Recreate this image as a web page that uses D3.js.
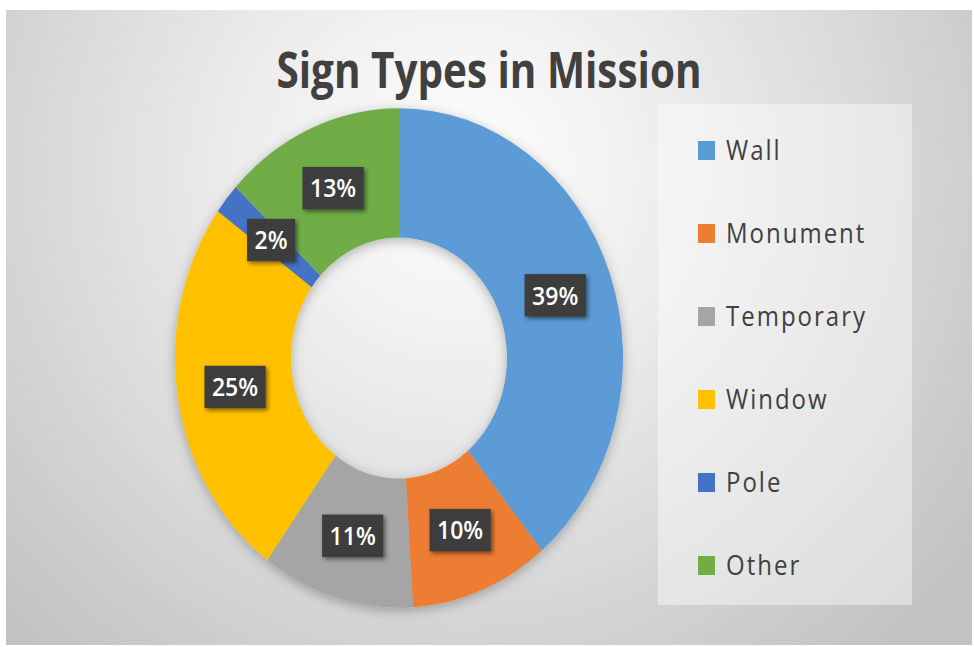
<!DOCTYPE html>
<html>
<head>
<meta charset="utf-8">
<script src="https://cdn.jsdelivr.net/npm/d3@7"></script>
<style>
  body { margin: 0; background: #fff; }
  text { font-family: "Open Sans", sans-serif; }
</style>
</head>
<body>
<div id="container"></div>
<script>
/* DATA */
const categories = ["Wall", "Monument", "Temporary", "Window", "Pole", "Other"]
const values = [39, 10, 11, 25, 2, 13]
const colors = ["#5B9BD5", "#ED7D31", "#A5A5A5", "#FFC000", "#4472C4", "#70AD47"]
const chartTitle = "Sign Types in Mission"

/* CONSTANTS */
const width = 974, height = 647
const cx = 399, cy = 358
const outerR = 224, innerR = 108
const sy = 1.115 // the picture is a bit stretched vertically

const data = categories.map((c, i) => ({ name: c, value: values[i], color: colors[i] }))

const svg = d3.select("#container")
  .append("svg")
  .attr("width", width)
  .attr("height", height)

const defs = svg.append("defs")

const bg = defs.append("radialGradient")
  .attr("id", "bg")
  .attr("gradientUnits", "userSpaceOnUse")
  .attr("cx", 460).attr("cy", 170).attr("r", 640)
bg.append("stop").attr("offset", 0).attr("stop-color", "#ffffff")
bg.append("stop").attr("offset", 0.35).attr("stop-color", "#ececec")
bg.append("stop").attr("offset", 1).attr("stop-color", "#c2c2c2")

const shadow = defs.append("filter").attr("id", "shadow")
  .attr("x", "-20%").attr("y", "-20%").attr("width", "140%").attr("height", "140%")
shadow.append("feDropShadow")
  .attr("dx", 0).attr("dy", 3).attr("stdDeviation", 6)
  .attr("flood-color", "#000").attr("flood-opacity", 0.28)

const lblShadow = defs.append("filter").attr("id", "lblShadow")
  .attr("x", "-30%").attr("y", "-30%").attr("width", "160%").attr("height", "160%")
lblShadow.append("feDropShadow")
  .attr("dx", 2).attr("dy", 2).attr("stdDeviation", 2)
  .attr("flood-color", "#000").attr("flood-opacity", 0.5)

// BACKGROUND FRAME
svg.append("rect")
  .attr("x", 6).attr("y", 10)
  .attr("width", 966).attr("height", 635)
  .attr("fill", "url(#bg)")

// TITLE
svg.append("text")
  .attr("transform", `translate(489, 88) scale(1, ${sy})`)
  .attr("text-anchor", "middle")
  .attr("font-size", 45)
  .attr("font-weight", 700)
  .attr("fill", "#404040")
  .attr("textLength", 425)
  .attr("lengthAdjust", "spacingAndGlyphs")
  .text(chartTitle)

// PIE + ARC GENERATORS
const pie = d3.pie().sort(null).value(d => d.value)
const arcGen = d3.arc().innerRadius(innerR).outerRadius(outerR)
const arcs = pie(data)

const donut = svg.append("g")
  .attr("filter", "url(#shadow)")
  .append("g")
  .attr("transform", `translate(${cx}, ${cy}) scale(1, ${sy})`)

donut.selectAll("path")
  .data(arcs)
  .join("path")
  .attr("d", arcGen)
  .attr("fill", d => d.data.color)

// DATA LABELS
const fmt = d3.format(".0%")
const total = d3.sum(values)

const labels = svg.selectAll(".lbl")
  .data(arcs)
  .join("g")
  .attr("class", "lbl")
  .attr("transform", d => {
    const [x, y] = arcGen.centroid(d)
    return `translate(${cx + x}, ${cy + y * sy}) scale(1, ${sy})`
  })

labels.append("rect")
  .attr("filter", "url(#lblShadow)")
  .attr("fill", "#3c3c3c")

labels.append("text")
  .attr("text-anchor", "middle")
  .attr("dy", "0.36em")
  .attr("font-size", 23)
  .attr("font-weight", 600)
  .attr("fill", "#fff")
  .text(d => fmt(d.data.value / total))

labels.each(function () {
  const g = d3.select(this)
  const w = g.select("text").node().getComputedTextLength() + 15
  const h = 38
  g.select("rect")
    .attr("x", -w / 2).attr("y", -h / 2)
    .attr("width", w).attr("height", h)
})

// LEGEND
svg.append("rect")
  .attr("x", 658).attr("y", 104)
  .attr("width", 254).attr("height", 501)
  .attr("fill", "#ffffff")
  .attr("fill-opacity", 0.42)

const legendY = d3.scalePoint()
  .domain(categories)
  .range([160, 575])

const legend = svg.selectAll(".legend")
  .data(data)
  .join("g")
  .attr("class", "legend")
  .attr("transform", d => `translate(698, ${legendY(d.name)})`)

legend.append("rect")
  .attr("x", 0).attr("y", -19)
  .attr("width", 17).attr("height", 19)
  .attr("fill", d => d.color)

legend.append("text")
  .attr("transform", `translate(28, 0) scale(1, ${sy})`)
  .attr("font-size", 24)
  .attr("letter-spacing", 2)
  .attr("fill", "#404040")
  .text(d => d.name)
</script>
</body>
</html>
